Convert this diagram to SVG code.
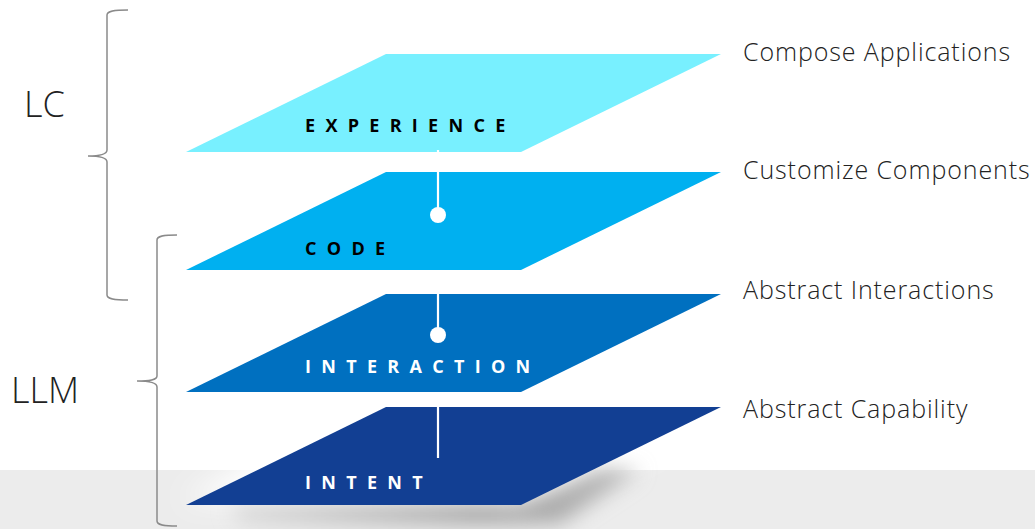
<svg xmlns="http://www.w3.org/2000/svg" width="1035" height="529" viewBox="0 0 1035 529">
<defs>
<style>
.lbl{font-family:"Open Sans","Liberation Sans",sans-serif;font-weight:700;font-size:18px;letter-spacing:10.3px}
.side{font-family:"Open Sans","Liberation Sans",sans-serif;font-weight:300;font-size:25px;letter-spacing:0.9px;fill:#222}
.big{font-family:"Open Sans","Liberation Sans",sans-serif;font-weight:300;font-size:36px;fill:#222}
.brace{fill:none;stroke:#8a8a8a;stroke-width:1.5}
.conn{stroke:#fff;stroke-width:2.2;fill:none}
.dot{fill:#fff}
</style>
<filter id="blur" x="-20%" y="-50%" width="140%" height="200%"><feGaussianBlur stdDeviation="10"/></filter>
<filter id="blurw" x="-20%" y="-50%" width="140%" height="200%"><feGaussianBlur stdDeviation="14"/></filter>
<linearGradient id="shd" x1="0" y1="0" x2="1" y2="0">
<stop offset="0" stop-color="#dcdcdc"/>
<stop offset="0.6" stop-color="#a0a0a0"/>
<stop offset="1" stop-color="#b8b8b8"/>
</linearGradient>
</defs>
<rect width="1035" height="529" fill="#fff"/>
<rect x="0" y="470" width="1035" height="59" fill="#ececec"/>
<g id="shadow">
<polygon points="360,400 740,400 560,500 180,500" fill="#fff" filter="url(#blurw)"/>
<polygon points="230,505 520,505 600,470 640,470 560,524 240,524" fill="url(#shd)" filter="url(#blur)"/>
</g>
<g id="node-experience">
<polygon points="386,54 721,54 521,152 186,152" fill="#78F0FF"/>
<text class="lbl" x="305" y="132" fill="#000">EXPERIENCE</text>
</g>
<g id="node-code">
<polygon points="386,172 721,172 521,270 186,270" fill="#00B0F0"/>
<text class="lbl" x="305" y="255" fill="#000">CODE</text>
</g>
<g id="node-interaction">
<polygon points="386,294 721,294 521,392 186,392" fill="#0070C0"/>
<text class="lbl" x="305" y="373" fill="#fff">INTERACTION</text>
</g>
<g id="node-intent">
<polygon points="386,407 721,407 521,505 186,505" fill="#123F93"/>
<text class="lbl" x="305" y="489" fill="#fff">INTENT</text>
</g>
<g id="connectors">
<line class="conn" x1="438" y1="150" x2="438" y2="215"/>
<circle class="dot" cx="438" cy="215" r="8"/>
<line class="conn" x1="438" y1="293" x2="438" y2="335"/>
<circle class="dot" cx="438" cy="335" r="8"/>
<line class="conn" x1="438" y1="392" x2="438" y2="458"/>
</g>
<g id="brace-lc">
<path class="brace" d="M128,10 C114,10 107,11 107,15 L107,150 C107,154 100,156 88,156 C100,156 107,158 107,162 L107,295 C107,299 114,300 128,300"/>
<text class="big" x="24" y="117">LC</text>
</g>
<g id="brace-llm">
<path class="brace" d="M177,235 C163,235 157,236 157,240 L157,376 C157,380 150,381 137,381 C150,381 157,383 157,387 L157,521 C157,525 163,526 177,526"/>
<text class="big" x="11" y="403">LLM</text>
</g>
<g id="side-labels">
<text class="side" x="743" y="61">Compose Applications</text>
<text class="side" x="743" y="179">Customize Components</text>
<text class="side" x="743" y="299">Abstract Interactions</text>
<text class="side" x="743" y="418">Abstract Capability</text>
</g>
</svg>
